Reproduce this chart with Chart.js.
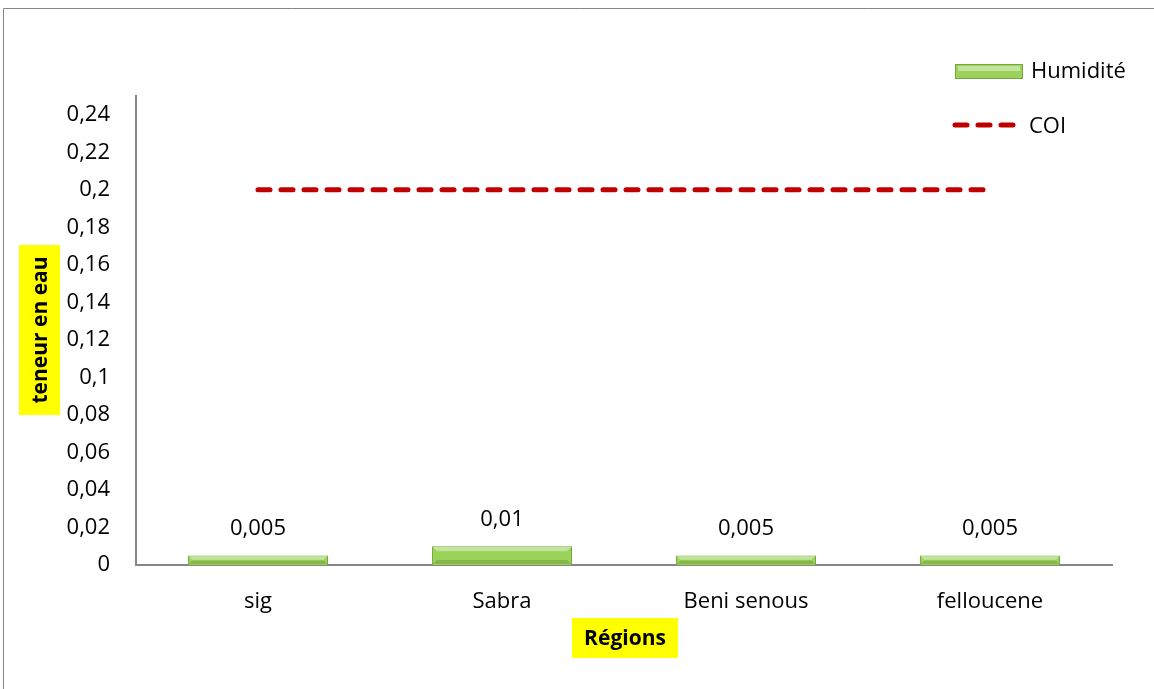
<!DOCTYPE html>
<html>
<head>
<meta charset="utf-8">
<script src="https://cdn.jsdelivr.net/npm/chart.js@4/dist/chart.umd.min.js"></script>
<style>
  html, body { margin: 0; padding: 0; background: #ffffff; }
  #wrap { position: relative; width: 1154px; height: 689px; }
  canvas { display: block; }
</style>
</head>
<body>
<div id="wrap"><canvas id="c" width="1154" height="689"></canvas></div>
<script>
// Water content per region, with the COI reference limit
const regions = ['sig', 'Sabra', 'Beni senous', 'felloucene'];
const humidite = [0.005, 0.01, 0.005, 0.005];
const coi = [0.2, 0.2, 0.2, 0.2];
const yTicks = [0, 0.02, 0.04, 0.06, 0.08, 0.1, 0.12, 0.14, 0.16, 0.18, 0.2, 0.22, 0.24];

const FONT = '"Open Sans", "Liberation Sans", sans-serif';
const GREEN = '#9bd35a';
const GREEN_EDGE = '#76a63c';
const RED = '#c00000';
const AXIS = '#868686';

const fmt = v => String(Number(v.toFixed(3))).replace('.', ',');

// Frame, axis titles, data labels, bar bevels and legend
const decor = {
  id: 'decor',
  beforeDraw(chart) {
    const ctx = chart.ctx;
    ctx.save();
    ctx.strokeStyle = AXIS;
    ctx.lineWidth = 1;
    ctx.beginPath();
    ctx.moveTo(3.5, 700);
    ctx.lineTo(3.5, 8.5);
    ctx.lineTo(1160, 8.5);
    ctx.stroke();
    ctx.restore();
  },
  afterDatasetsDraw(chart) {
    const ctx = chart.ctx;
    const meta = chart.getDatasetMeta(1);
    ctx.save();
    meta.data.forEach((bar, i) => {
      const w = bar.width;
      const left = bar.x - w / 2, right = bar.x + w / 2;
      const top = bar.y, base = bar.base;
      const h = base - top;
      const b = Math.min(4, h / 3);
      // light bevel along the top and a shaded edge at the base
      ctx.fillStyle = 'rgba(255,255,255,0.4)';
      ctx.beginPath();
      ctx.moveTo(left + 1, top + 1);
      ctx.lineTo(right - 1, top + 1);
      ctx.lineTo(right - 1 - b, top + 1 + b);
      ctx.lineTo(left + 1 + b, top + 1 + b);
      ctx.closePath();
      ctx.fill();
      ctx.fillStyle = 'rgba(60,100,20,0.25)';
      ctx.beginPath();
      ctx.moveTo(left + 1, base - 1);
      ctx.lineTo(right - 1, base - 1);
      ctx.lineTo(right - 1 - b, base - 1 - b);
      ctx.lineTo(left + 1 + b, base - 1 - b);
      ctx.closePath();
      ctx.fill();
      // value label
      ctx.fillStyle = '#000';
      ctx.font = '22px ' + FONT;
      ctx.textAlign = 'center';
      ctx.textBaseline = 'middle';
      ctx.fillText(fmt(humidite[i]), bar.x, top - 27);
    });
    ctx.restore();
  },
  afterDraw(chart) {
    const ctx = chart.ctx;
    ctx.save();
    // y axis title
    ctx.fillStyle = '#ffff00';
    ctx.fillRect(19, 245, 41, 170);
    ctx.translate(40, 330);
    ctx.rotate(-Math.PI / 2);
    ctx.fillStyle = '#000';
    ctx.font = 'bold 21px ' + FONT;
    ctx.textAlign = 'center';
    ctx.textBaseline = 'middle';
    ctx.fillText('teneur en eau', 0, 1);
    ctx.restore();

    ctx.save();
    // x axis title
    ctx.fillStyle = '#ffff00';
    ctx.fillRect(572, 618, 106, 40);
    ctx.fillStyle = '#000';
    ctx.font = 'bold 21px ' + FONT;
    ctx.textAlign = 'center';
    ctx.textBaseline = 'middle';
    ctx.fillText('Régions', 625, 639);

    // legend
    ctx.fillStyle = GREEN;
    ctx.strokeStyle = GREEN_EDGE;
    ctx.lineWidth = 1;
    ctx.fillRect(955, 64, 68, 15);
    ctx.strokeRect(955.5, 64.5, 67, 14);
    ctx.fillStyle = 'rgba(255,255,255,0.4)';
    ctx.fillRect(958, 66, 62, 5);
    ctx.fillStyle = '#000';
    ctx.font = '22px ' + FONT;
    ctx.textAlign = 'left';
    ctx.fillText('Humidité', 1031, 72);

    ctx.strokeStyle = RED;
    ctx.lineWidth = 5;
    ctx.lineCap = 'round';
    ctx.setLineDash([12, 11]);
    ctx.beginPath();
    ctx.moveTo(955, 125);
    ctx.lineTo(1014, 125);
    ctx.stroke();
    ctx.setLineDash([]);
    ctx.fillText('COI', 1029, 127);
    ctx.restore();
  }
};

new Chart(document.getElementById('c'), {
  data: {
    labels: regions,
    datasets: [
      {
        type: 'line',
        label: 'COI',
        data: coi,
        borderColor: RED,
        borderWidth: 5,
        borderDash: [12, 11],
        borderCapStyle: 'round',
        pointRadius: 0,
        fill: false,
        order: 0
      },
      {
        type: 'bar',
        label: 'Humidité',
        data: humidite,
        backgroundColor: GREEN,
        borderColor: GREEN_EDGE,
        borderWidth: 1,
        categoryPercentage: 1,
        barPercentage: 0.574,
        order: 1
      }
    ]
  },
  options: {
    responsive: false,
    animation: false,
    devicePixelRatio: 1,
    layout: { padding: { top: 96, right: 42, left: 0, bottom: 0 } },
    plugins: {
      legend: { display: false },
      tooltip: { enabled: false }
    },
    scales: {
      x: {
        grid: { display: false, drawTicks: false },
        border: { display: true, color: AXIS, width: 2 },
        ticks: { color: '#000', font: { family: FONT, size: 22 }, padding: 24, maxRotation: 0 },
        afterFit(scale) { scale.height = 124; }
      },
      y: {
        min: 0,
        max: 0.25,
        grid: { display: false, drawTicks: false },
        border: { display: true, color: AXIS, width: 2 },
        afterBuildTicks(scale) { scale.ticks = yTicks.map(v => ({ value: v })); },
        ticks: {
          color: '#000',
          font: { family: FONT, size: 22 },
          padding: 26,
          callback: v => fmt(v)
        },
        afterFit(scale) { scale.width = 136; }
      }
    }
  },
  plugins: [decor]
});
</script>
</body>
</html>
